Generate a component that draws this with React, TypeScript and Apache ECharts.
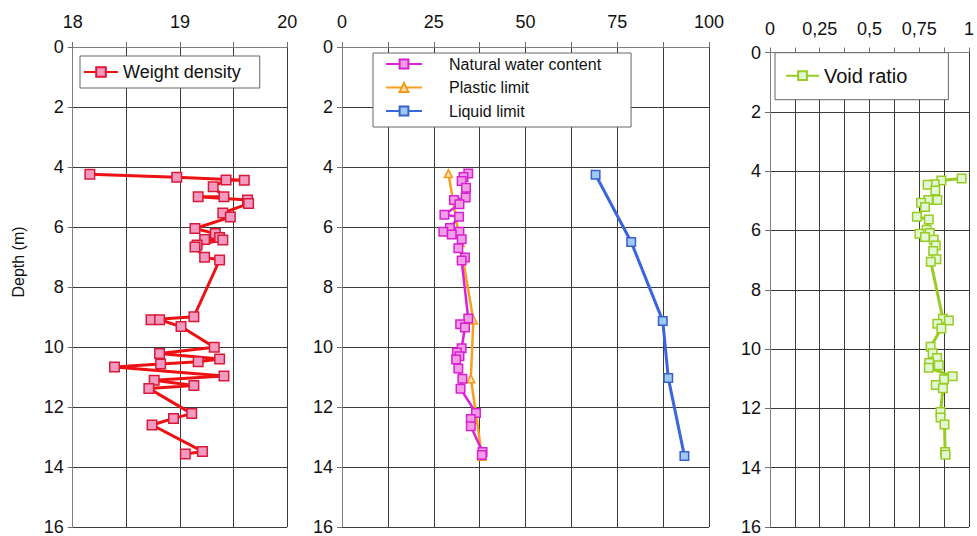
import React, { useEffect, useRef } from "react";
import * as echarts from "echarts";

// Weight density (kN/m3) vs depth (m)
const densityDepth = [4.24, 4.34, 4.44, 4.43, 4.66, 4.99, 4.99, 5.10, 5.22, 5.53, 5.67, 6.05, 6.22, 6.35, 6.42, 6.43, 6.60, 6.67, 7.01, 7.10, 8.99, 9.09, 9.09, 9.32, 10.01, 10.22, 10.40, 10.49, 10.57, 10.67, 10.97, 11.11, 11.28, 11.38, 12.22, 12.38, 12.60, 13.48, 13.57];
const densityValue = [18.16, 18.97, 19.60, 19.43, 19.31, 19.41, 19.17, 19.63, 19.64, 19.40, 19.47, 19.14, 19.33, 19.37, 19.23, 19.40, 19.16, 19.14, 19.23, 19.37, 19.13, 18.73, 18.81, 19.01, 19.32, 18.81, 19.37, 19.17, 18.82, 18.39, 19.41, 18.76, 19.13, 18.71, 19.11, 18.94, 18.74, 19.21, 19.05];

// Natural water content (%)
const waterDepth = [4.22, 4.33, 4.47, 4.69, 5.02, 5.10, 5.24, 5.59, 5.66, 6.03, 6.16, 6.16, 6.25, 6.41, 6.71, 7.02, 7.12, 9.05, 9.24, 9.35, 10.04, 10.18, 10.31, 10.42, 10.72, 11.06, 11.39, 12.20, 12.40, 12.64, 13.50, 13.60];
const waterValue = [34.4, 33.1, 32.6, 33.8, 33.7, 30.5, 32.0, 27.9, 31.9, 29.4, 27.6, 32.0, 29.9, 32.6, 31.7, 33.5, 32.6, 34.4, 32.2, 33.5, 32.6, 31.3, 32.0, 31.1, 31.7, 32.8, 32.3, 36.5, 35.1, 35.1, 38.3, 38.1];

// Plastic limit (%)
const plasticDepth = [4.22, 6.52, 9.10, 11.06, 12.20, 13.64];
const plasticValue = [29.0, 32.2, 35.8, 35.1, 36.5, 38.1];

// Liquid limit (%)
const liquidDepth = [4.26, 6.50, 9.13, 11.03, 13.63];
const liquidValue = [69.1, 78.8, 87.4, 88.9, 93.3];

// Void ratio
const voidDepth = [4.25, 4.32, 4.44, 4.46, 4.65, 4.97, 4.97, 5.07, 5.21, 5.54, 5.63, 5.98, 6.09, 6.11, 6.22, 6.31, 6.51, 6.69, 6.97, 7.06, 8.98, 9.04, 9.15, 9.31, 9.92, 10.14, 10.30, 10.47, 10.55, 10.63, 10.92, 11.02, 11.21, 11.32, 12.12, 12.31, 12.54, 13.47, 13.56];
const voidValue = [0.963, 0.861, 0.828, 0.792, 0.831, 0.841, 0.795, 0.759, 0.779, 0.738, 0.798, 0.787, 0.803, 0.751, 0.779, 0.823, 0.833, 0.820, 0.836, 0.808, 0.869, 0.899, 0.841, 0.861, 0.807, 0.817, 0.840, 0.800, 0.848, 0.798, 0.918, 0.874, 0.833, 0.869, 0.857, 0.857, 0.877, 0.880, 0.882];

const depthTicks = { min: 0, max: 16, interval: 2 };
const FONT = "Liberation Sans, Arial, sans-serif";

function pairs(vals: number[], depths: number[]) {
  return vals.map((v, i) => [v, depths[i]]);
}

export default function App() {
  const ref = useRef<HTMLDivElement>(null);
  useEffect(() => {
    if (!ref.current) return;
    const chart = echarts.init(ref.current, undefined, { renderer: "svg" });
    const grids = [
      { left: 72.7, top: 47, width: 214.5, height: 485.5 },
      { left: 342, top: 47, width: 367, height: 485.5 },
      { left: 770, top: 52.5, width: 203.3, height: 484 },
    ];
    const axisLine = { show: true, lineStyle: { color: "#808080", width: 1 } };
    const splitLine = { show: true, lineStyle: { color: "#3a3a3a", width: 1 } };
    const axisTick = { show: true, length: 5, inside: false, lineStyle: { color: "#707070" } };
    const labelBase = { fontSize: 18, color: "#111", fontFamily: FONT };
    const xAxes = [
      {
        gridIndex: 0, type: "value", position: "top", min: 18, max: 20, interval: 0.5,
        axisLine, splitLine, axisTick,
        axisLabel: { ...labelBase, margin: 16, formatter: (v: number) => (Math.abs(v - Math.round(v)) < 1e-6 ? String(Math.round(v)) : "") },
      },
      {
        gridIndex: 1, type: "value", position: "top", min: 0, max: 100, interval: 12.5,
        axisLine, splitLine, axisTick,
        axisLabel: { ...labelBase, margin: 16, formatter: (v: number) => (Math.abs(v / 25 - Math.round(v / 25)) < 1e-6 ? String(v) : "") },
      },
      {
        gridIndex: 2, type: "value", position: "top", min: 0, max: 1, interval: 0.125,
        axisLine, splitLine, axisTick,
        axisLabel: { ...labelBase, margin: 15, formatter: (v: number) => (Math.abs(v / 0.25 - Math.round(v / 0.25)) < 1e-6 ? String(v).replace(".", ",") : "") },
      },
    ];
    const yAxes = [0, 1, 2].map((g) => ({
      gridIndex: g, type: "value", inverse: true, ...depthTicks,
      axisLine, splitLine, axisTick,
      axisLabel: { ...labelBase, margin: 9 },
    }));
    const sq = (fill: string, border: string) => ({ color: fill, borderColor: border, borderWidth: 1.5 });
    const option = {
      animation: false,
      backgroundColor: "#fff",
      grid: grids,
      xAxis: xAxes,
      yAxis: yAxes,
      legend: [
        {
          data: ["Weight density"], left: 80, top: 56, orient: "horizontal",
          borderColor: "#666", borderWidth: 1, borderRadius: 0, backgroundColor: "#fff",
          padding: [7, 19, 7, 3], itemWidth: 34, itemHeight: 12,
          textStyle: { fontSize: 18, color: "#111", fontFamily: FONT },
        },
        {
          data: ["Natural water content", "Plastic limit", "Liquid limit"], left: 373, top: 53, orient: "vertical",
          borderColor: "#666", borderWidth: 1, borderRadius: 0, backgroundColor: "#fff",
          padding: [3, 30, 8, 12], itemGap: 7.5, itemWidth: 36, itemHeight: 11,
          textStyle: { fontSize: 16, color: "#111", fontFamily: FONT, padding: [0, 0, 0, 22] },
        },
        {
          data: ["Void ratio"], left: 775, top: 52.7, orient: "horizontal",
          borderColor: "#666", borderWidth: 1, borderRadius: 0, backgroundColor: "#fff",
          padding: [13, 41, 14, 10], itemWidth: 33, itemHeight: 11,
          textStyle: { fontSize: 20, color: "#111", fontFamily: FONT },
        },
      ],
      graphic: [
        {
          type: "text", x: 18, y: 262, rotation: Math.PI / 2,
          style: { text: "Depth (m)", fontSize: 16, fill: "#111", fontFamily: FONT, align: "center", verticalAlign: "middle" },
        },
      ],
      series: [
        {
          name: "Weight density", type: "line", xAxisIndex: 0, yAxisIndex: 0,
          data: pairs(densityValue, densityDepth), symbol: "rect", symbolSize: 9.5,
          lineStyle: { color: "#ee1111", width: 3 }, itemStyle: sq("#f49ac0", "#d81a3a"),
        },
        {
          name: "Natural water content", type: "line", xAxisIndex: 1, yAxisIndex: 1,
          data: pairs(waterValue, waterDepth), symbol: "rect", symbolSize: 8.5, z: 4,
          lineStyle: { color: "#e020d8", width: 2.5 }, itemStyle: sq("#f29ee6", "#d91fd0"),
        },
        {
          name: "Plastic limit", type: "line", xAxisIndex: 1, yAxisIndex: 1,
          data: pairs(plasticValue, plasticDepth), symbol: "triangle", symbolSize: 8, z: 3,
          lineStyle: { color: "#f5a020", width: 2.5 }, itemStyle: sq("#fde0a8", "#f29a18"),
        },
        {
          name: "Liquid limit", type: "line", xAxisIndex: 1, yAxisIndex: 1,
          data: pairs(liquidValue, liquidDepth), symbol: "rect", symbolSize: 8.5,
          lineStyle: { color: "#3a66dd", width: 3 }, itemStyle: sq("#9ccaf4", "#3a5fc8"),
        },
        {
          name: "Void ratio", type: "line", xAxisIndex: 2, yAxisIndex: 2,
          data: pairs(voidValue, voidDepth), symbol: "rect", symbolSize: 8.5,
          lineStyle: { color: "#99cc22", width: 3 }, itemStyle: sq("#e2f8d4", "#99cc22"),
        },
      ],
    };
    chart.setOption(option as any);
    return () => chart.dispose();
  }, []);
  return (
    <div
      ref={ref}
      style={{ position: "fixed", left: 0, top: 0, width: 977, height: 536, background: "#fff" }}
    />
  );
}
